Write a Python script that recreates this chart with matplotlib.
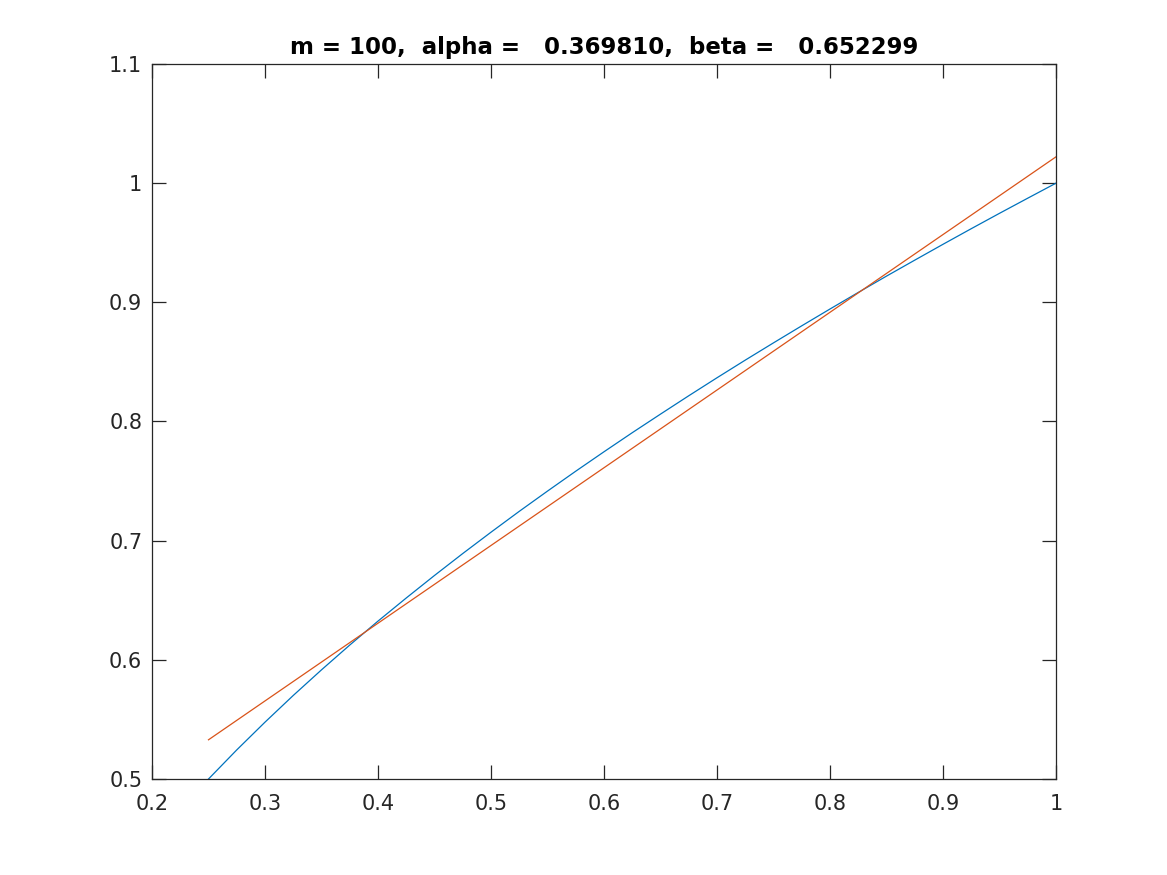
import matplotlib
matplotlib.use("Agg")
import matplotlib.pyplot as plt

# Data
x_curve = [0.250, 0.275, 0.300, 0.325, 0.350, 0.375, 0.400, 0.425, 0.450, 0.475,
           0.500, 0.525, 0.550, 0.575, 0.600, 0.625, 0.650, 0.675, 0.700, 0.725,
           0.750, 0.775, 0.800, 0.825, 0.850, 0.875, 0.900, 0.925, 0.950, 0.975,
           1.000]
y_curve = [0.5000, 0.5244, 0.5477, 0.5701, 0.5916, 0.6124, 0.6325, 0.6519, 0.6708, 0.6892,
           0.7071, 0.7246, 0.7416, 0.7583, 0.7746, 0.7906, 0.8062, 0.8216, 0.8367, 0.8515,
           0.8660, 0.8803, 0.8944, 0.9083, 0.9220, 0.9354, 0.9487, 0.9618, 0.9747, 0.9874,
           1.0000]
x_line = [0.25, 1.00]
y_line = [0.5329, 1.0221]

title_text = "m = 100,  alpha =   0.369810,  beta =   0.652299"
xticks = [0.2, 0.3, 0.4, 0.5, 0.6, 0.7, 0.8, 0.9, 1.0]
xtick_labels = ["0.2", "0.3", "0.4", "0.5", "0.6", "0.7", "0.8", "0.9", "1"]
yticks = [0.5, 0.6, 0.7, 0.8, 0.9, 1.0, 1.1]
ytick_labels = ["0.5", "0.6", "0.7", "0.8", "0.9", "1", "1.1"]

plt.rcParams['font.family'] = ['DejaVu Sans']
fig = plt.figure(figsize=(11.67, 8.75), dpi=100)
ax = fig.add_axes([152/1167, 1 - 779/875, (1056 - 152)/1167, (779 - 64)/875])

ax.plot(x_curve, y_curve, color="#0072BD", linewidth=0.9)
ax.plot(x_line, y_line, color="#D95319", linewidth=0.9)

ax.set_xlim(0.2, 1.0)
ax.set_ylim(0.5, 1.1)
ax.set_xticks(xticks)
ax.set_xticklabels(xtick_labels)
ax.set_yticks(yticks)
ax.set_yticklabels(ytick_labels)

dark = "#262626"
for s in ax.spines.values():
    s.set_color(dark)
    s.set_linewidth(0.9)
ax.tick_params(direction="in", length=10, width=0.9, colors=dark, labelsize=15,
               top=True, right=True)
ax.tick_params(axis="x", pad=11)
ax.tick_params(axis="y", pad=7)
ax.set_title(title_text, fontsize=16.5, fontweight="bold", color="black", pad=7)

fig.savefig("out.png", dpi=100)
